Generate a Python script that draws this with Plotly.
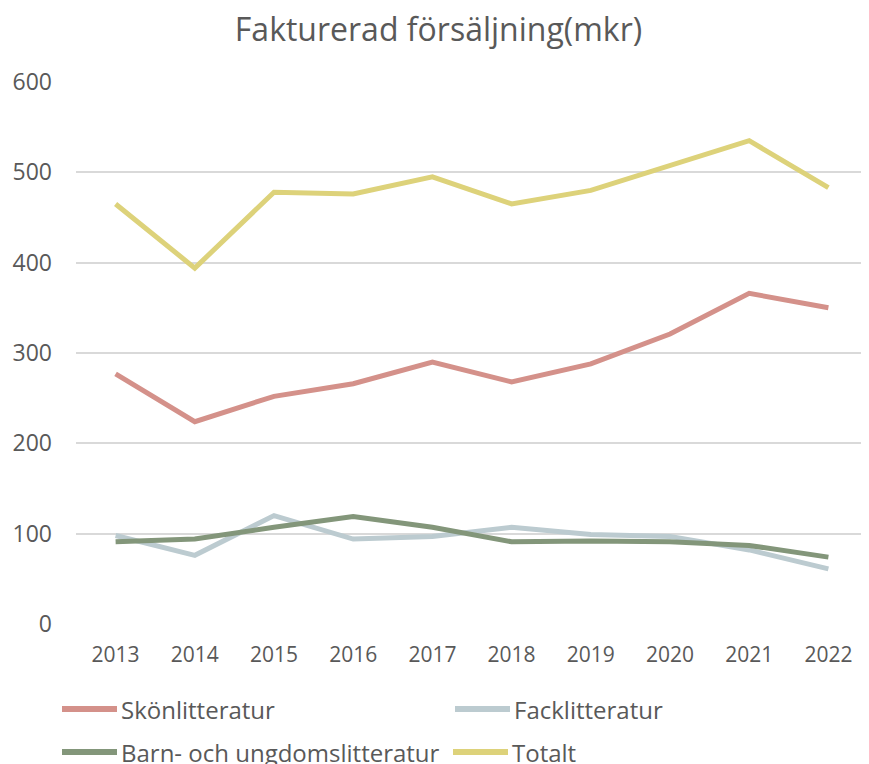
import plotly.graph_objects as go

years = ['2013', '2014', '2015', '2016', '2017', '2018', '2019', '2020', '2021', '2022']

skonlitteratur = [277, 224, 252, 266, 290, 268, 288, 321, 366, 350]
facklitteratur = [98, 76, 120, 94, 97, 107, 99, 97, 82, 61]
barn_ungdom = [91, 94, 107, 119, 107, 91, 92, 91, 87, 74]
totalt = [465, 394, 478, 476, 495, 465, 480, 508, 535, 483]

font_family = 'Open Sans, Noto Sans, sans-serif'
text_color = '#595959'

# page body has an 8px margin, so the figure is a bit smaller than the window
W, H = 861, 756
M_L, M_R, M_T, M_B = 68, 1, 74, 140

series = [
    ('Skönlitteratur', skonlitteratur, '#D4918A'),
    ('Facklitteratur', facklitteratur, '#BCCBD0'),
    ('Barn- och ungdomslitteratur', barn_ungdom, '#83967A'),
    ('Totalt', totalt, '#DDD27A'),
]
# legend slots (line start x, row centre y) in figure pixels, 2 per row
legend_slots = [(54, 701), (447, 701), (54, 744), (445, 744)]


def px_x(x):
    return (x - M_L) / (W - M_L - M_R)


def px_y(y):
    return (H - M_B - y) / (H - M_T - M_B)


fig = go.Figure()
for name, values, color in series:
    fig.add_trace(go.Scatter(
        x=years,
        y=values,
        name=name,
        mode='lines',
        line=dict(color=color, width=5),
        showlegend=False,
    ))

# legend drawn by hand so the swatches match the long Excel-style keys
for (name, _, color), (lx, ly) in zip(series, legend_slots):
    fig.add_shape(type='line', xref='paper', yref='paper',
                  x0=px_x(lx), x1=px_x(lx + 55), y0=px_y(ly), y1=px_y(ly),
                  line=dict(color=color, width=6))
    fig.add_annotation(text=name, xref='paper', yref='paper',
                       x=px_x(lx + 57), y=px_y(ly), xanchor='left', yanchor='middle',
                       showarrow=False,
                       font=dict(family=font_family, size=24, color=text_color))

fig.update_layout(
    width=W,
    height=H,
    template='none',
    paper_bgcolor='white',
    plot_bgcolor='white',
    margin=dict(l=M_L, r=M_R, t=M_T, b=M_B, autoexpand=False),
    title=dict(
        text='Fakturerad försäljning(mkr)',
        x=0.5,
        xanchor='center',
        y=1 - 22 / H,
        yanchor='middle',
        font=dict(family=font_family, size=32, color=text_color),
    ),
    font=dict(family=font_family, size=21, color=text_color),
    showlegend=False,
    xaxis=dict(
        type='category',
        range=[-0.5, 9.5],
        showgrid=False,
        showline=False,
        zeroline=False,
        ticks='',
        ticklabelstandoff=16,
        tickfont=dict(family=font_family, size=21, color=text_color),
    ),
    yaxis=dict(
        range=[0, 600],
        dtick=100,
        showgrid=True,
        gridcolor='#D9D9D9',
        gridwidth=1.5,
        zeroline=False,
        showline=False,
        ticks='',
        ticklabelstandoff=23,
        tickfont=dict(family=font_family, size=23, color=text_color),
    ),
)

fig.write_html("out.html")
